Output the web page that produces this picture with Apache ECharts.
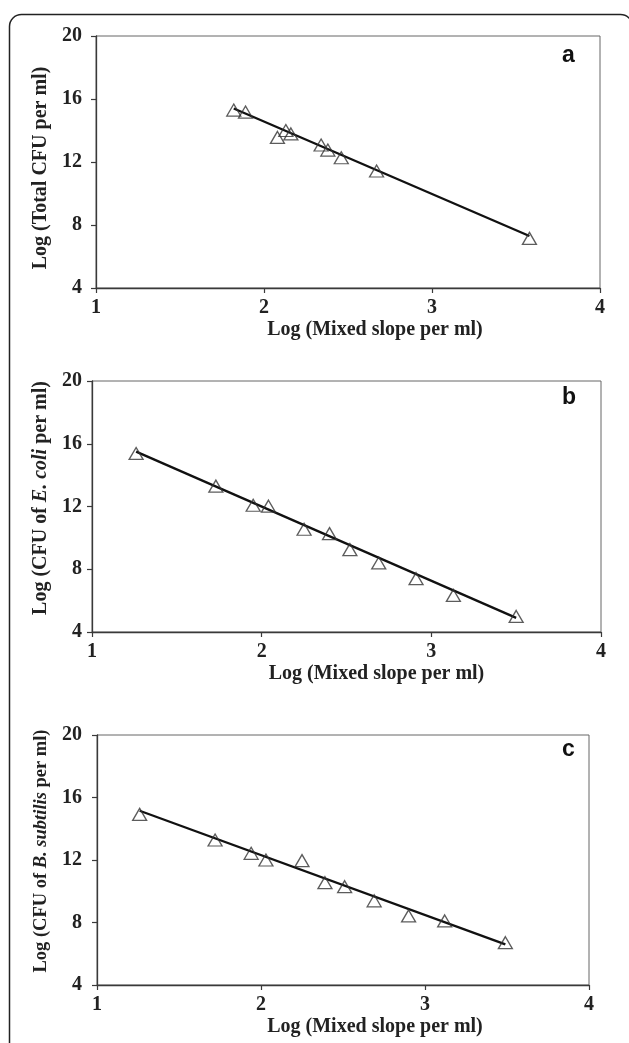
<!DOCTYPE html>
<html>
<head>
<meta charset="utf-8">
<script src="https://cdn.jsdelivr.net/npm/echarts@6/dist/echarts.min.js"></script>
<style>
html,body{margin:0;padding:0;background:#fff;}
#chart{width:629px;height:1043px;}
</style>
</head>
<body>
<div id="chart"></div>
<script>
// ---- data ----
const xTicks = [1, 2, 3, 4];
const yTicks = [4, 8, 12, 16, 20];
const panelLetters = ['a', 'b', 'c'];
const xTitle = 'Log (Mixed slope per ml)';
const yTitles = ['Log (Total CFU per ml)', 'Log (CFU of {i|E. coli} per ml)', 'Log (CFU of {i|B. subtilis} per ml)'];

const aX = [1.82, 1.89, 2.08, 2.13, 2.16, 2.34, 2.38, 2.46, 2.67, 3.58];
const aY = [15.30, 15.17, 13.56, 14.00, 13.78, 13.08, 12.76, 12.27, 11.43, 7.15];
const bX = [1.26, 1.73, 1.95, 2.04, 2.25, 2.40, 2.52, 2.69, 2.91, 3.13, 3.50];
const bY = [15.38, 13.30, 12.08, 12.02, 10.55, 10.27, 9.25, 8.40, 7.40, 6.33, 4.99];
const cX = [1.26, 1.72, 1.94, 2.03, 2.25, 2.39, 2.51, 2.69, 2.90, 3.12, 3.49];
const cY = [14.92, 13.28, 12.43, 12.00, 11.96, 10.55, 10.29, 9.39, 8.42, 8.10, 6.71];

const aLineX = [1.82, 3.58], aLineY = [15.40, 7.30];
const bLineX = [1.26, 3.50], bLineY = [15.50, 4.90];
const cLineX = [1.26, 3.49], cLineY = [15.15, 6.60];

// ---- layout ----
const grids = [
  {left: 96, top: 36, width: 504, height: 252},
  {left: 92, top: 381, width: 509, height: 251},
  {left: 97, top: 735, width: 492, height: 250}
];
const yLabelMargin = [14, 10, 15];
const yNameGap = [34, 30, 36];
const yNameSize = [20, 20, 18.5];
const yNameShift = [12, -17, -18];
const xNameShift = [54, 60, 64];
const letterPos = [[570, 57], [570, 399], [570, 751]];

const zip = (xs, ys) => xs.map((x, i) => [x, ys[i]]);
const pts = [zip(aX, aY), zip(bX, bY), zip(cX, cY)];
const lines = [zip(aLineX, aLineY), zip(bLineX, bLineY), zip(cLineX, cLineY)];

const serif = '"Liberation Serif", "Times New Roman", serif';
const axisColor = '#3a3a3a';

const option = {
  animation: false,
  backgroundColor: '#fff',
  grid: grids.map(g => Object.assign({show: true, borderColor: '#666', borderWidth: 1, containLabel: false}, g)),
  xAxis: grids.map((g, i) => ({
    type: 'value', gridIndex: i, min: xTicks[0], max: xTicks[xTicks.length - 1], interval: 1,
    axisLine: {show: true, onZero: false, lineStyle: {color: axisColor, width: 1.3}},
    axisTick: {show: true, length: 5, lineStyle: {color: axisColor, width: 1.2}},
    splitLine: {show: false},
    axisLabel: {margin: 10, color: '#222', fontFamily: serif, fontWeight: 'bold', fontSize: 20},
    name: xTitle, nameLocation: 'middle', nameGap: 32,
    nameTextStyle: {color: '#222', fontFamily: serif, fontWeight: 'bold', fontSize: 20,
      padding: [0, 0, 0, xNameShift[i]]}
  })),
  yAxis: grids.map((g, i) => ({
    type: 'value', gridIndex: i, min: yTicks[0], max: yTicks[yTicks.length - 1], interval: 4,
    axisLine: {show: true, onZero: false, lineStyle: {color: axisColor, width: 1.3}},
    axisTick: {show: true, length: 5, lineStyle: {color: axisColor, width: 1.2}},
    splitLine: {show: false},
    axisLabel: {margin: yLabelMargin[i], color: '#222', fontFamily: serif, fontWeight: 'bold', fontSize: 20},
    name: yTitles[i], nameLocation: 'middle', nameGap: yNameGap[i], nameRotate: 90,
    nameTextStyle: {
      color: '#222', fontFamily: serif, fontWeight: 'bold', fontSize: yNameSize[i],
      padding: yNameShift[i] >= 0 ? [0, yNameShift[i], 0, 0] : [0, 0, 0, -yNameShift[i]],
      rich: {i: {fontFamily: serif, fontWeight: 'bold', fontStyle: 'italic', fontSize: yNameSize[i], color: '#222'}}
    }
  })),
  series: [].concat(
    lines.map((d, i) => ({
      type: 'line', xAxisIndex: i, yAxisIndex: i, data: d, symbol: 'none',
      lineStyle: {color: '#111', width: 2.3}, z: 2, silent: true
    })),
    pts.map((d, i) => ({
      type: 'scatter', xAxisIndex: i, yAxisIndex: i, data: d, symbol: 'triangle', symbolSize: [14, 12],
      itemStyle: {color: 'rgba(0,0,0,0)', borderColor: '#333', borderWidth: 1.3}, z: 3, silent: true
    }))
  ),
  graphic: [
    {type: 'rect', shape: {x: 9.5, y: 14.5, width: 623, height: 1100, r: 12},
     style: {fill: 'none', stroke: '#222', lineWidth: 1.5}, z: 0, silent: true}
  ].concat(panelLetters.map((t, i) => ({
    type: 'text', left: letterPos[i][0] - 8, top: letterPos[i][1] - 13,
    style: {text: t, font: 'bold 23px "Liberation Sans", Arial, sans-serif', fill: '#111'}, z: 10
  })))
};

const chart = echarts.init(document.getElementById('chart'), null, {renderer: 'canvas'});
chart.setOption(option);
</script>
</body>
</html>
